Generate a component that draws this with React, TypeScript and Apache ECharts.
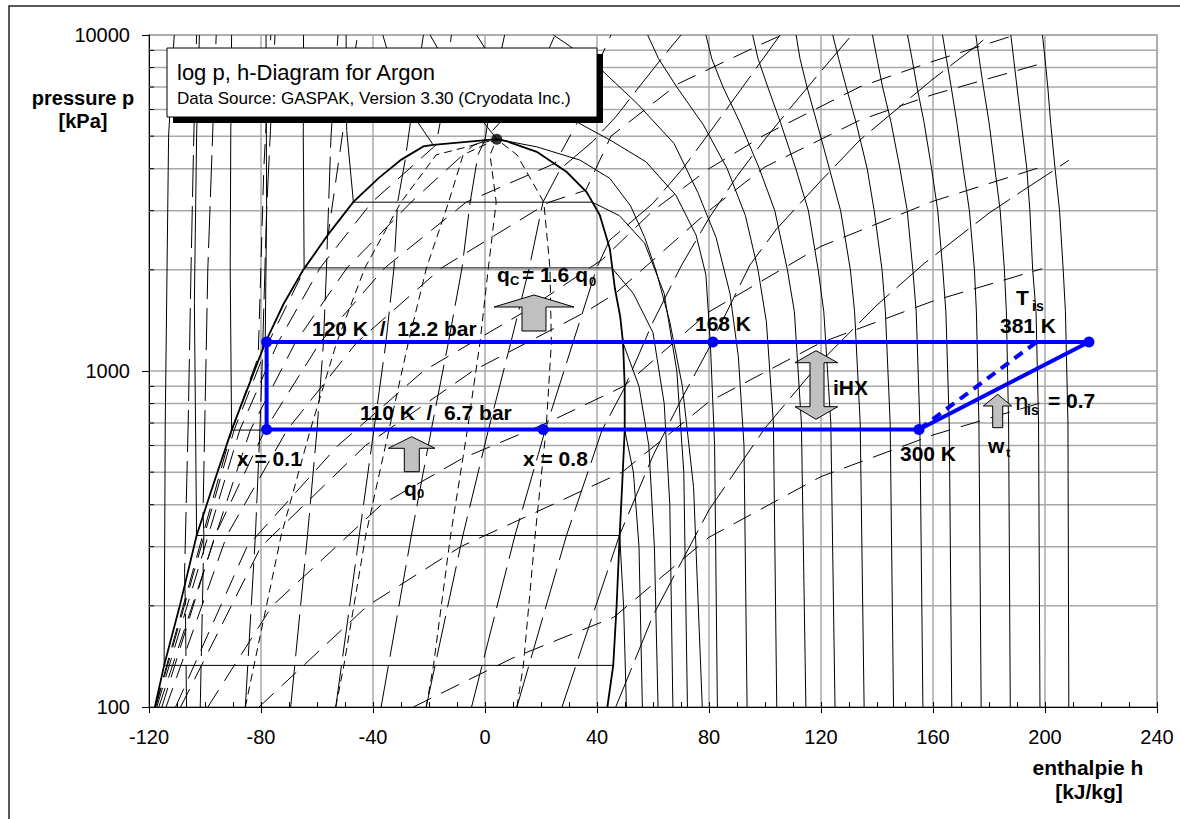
import React, { useEffect, useRef } from 'react';
import * as echarts from 'echarts';

type Pt = [number, number];

const FONT = "'Liberation Sans', Arial, Helvetica, sans-serif";

// pressure grid (minor decades), kPa
const P_MINOR: number[] = [200, 300, 400, 500, 600, 700, 800, 900, 2000, 3000, 4000, 5000, 6000, 7000, 8000, 9000];

// saturation dome [h kJ/kg, p kPa]
const DOME: Pt[] = [
  [-117.9, 100], [-114.6, 133], [-109, 200], [-103, 324], [-97, 460], [-90.5, 667], [-84.5, 900],
  [-78.5, 1213], [-72, 1580], [-64.9, 2000], [-56, 2550], [-47, 3186], [-38, 3750], [-30, 4250],
  [-22, 4660], [-18.5, 4712], [4.2, 4898], [7.7, 4830], [18.5, 4490], [29.2, 3910], [36.3, 3410],
  [41, 2910], [44.6, 2310], [46.4, 1760], [48.3, 1450], [49.3, 1213], [49.9, 900], [49.9, 667],
  [49, 460], [48.1, 324], [47, 200], [45.8, 133], [43.7, 100],
];

const CRITICAL_POINT: Pt = [4.2, 4898];

// isotherms inside the two-phase region (90 ... 140 K)
const TWO_PHASE_ISOTHERMS: Pt[][] = [
  [[-114.6, 133], [45.8, 133]],
  [[-103, 324], [48.1, 324]],
  [[-90.5, 667], [49.9, 667]],
  [[-78.5, 1213], [49.3, 1213]],
  [[-64.6, 2027], [45.2, 2027]],
  [[-47, 3180], [38.3, 3180]],
];

// lines of constant quality x = 0.2, 0.4, 0.6, 0.8
const QUALITY_LINES: Pt[][] = [
  [[-85.6, 100], [-82.5, 133], [-72.8, 324], [-62.4, 667], [-53, 1213], [-42.9, 2027], [-30, 3180], [-17.4, 4400], [4.2, 4898]],
  [[-53.3, 100], [-50.4, 133], [-42.6, 324], [-34.3, 667], [-27.4, 1213], [-20.9, 2027], [-13, 3180], [-7.8, 4400], [4.2, 4898]],
  [[-21, 100], [-18.4, 133], [-12.3, 324], [-6.3, 667], [-1.8, 1213], [1.2, 2027], [4, 3180], [1.8, 4400], [4.2, 4898]],
  [[11.4, 100], [13.7, 133], [17.9, 324], [21.8, 667], [23.7, 1213], [23.2, 2027], [21, 3180], [11.4, 4400], [4.2, 4898]],
];

// liquid-side isotherms 90 ... 150 K
const LIQUID_ISOTHERMS: Pt[][] = [
  [[-114.6, 133], [-114.2, 700], [-113, 5000], [-111, 10000]],
  [[-103, 324], [-103.8, 1600], [-103, 5000], [-102, 10000]],
  [[-90.5, 667], [-91, 2000], [-90.8, 5000], [-90.5, 10000]],
  [[-78.5, 1213], [-78, 3000], [-78.2, 10000]],
  [[-64.6, 2027], [-64.9, 5000], [-64.8, 10000]],
  [[-47, 3186], [-49.4, 5200], [-49.6, 10000]],
  [[-18.6, 4720], [-24, 5500], [-30, 7000], [-34, 8500], [-36.5, 10000]],
];

// vapour / supercritical isotherms 100 ... 400 K
const VAPOR_ISOTHERMS: Pt[][] = [
  [[50.5, 100], [49.5, 200], [48.1, 324]],
  [[56.2, 100], [55, 300], [53, 500], [49.9, 667]],
  [[61.8, 100], [60.5, 300], [58.5, 600], [55, 900], [49.3, 1213]],
  [[67.1, 100], [66, 400], [64, 800], [60, 1300], [53, 1700], [45.3, 2027]],
  [[72.3, 100], [71, 500], [68.5, 1000], [64, 1700], [57, 2400], [48, 2900], [38.3, 3180]],
  [[77.6, 100], [74.5, 450], [70.5, 900], [66, 1400], [61, 2000], [57, 2500], [52, 3100], [44.6, 3742], [33.9, 4244], [18.5, 4646], [4.2, 4898], [-6, 6300], [-13, 8000], [-19.6, 10000]],
  [[83, 100], [82, 600], [80.5, 1200], [78.9, 1932], [75.4, 2536], [68.2, 3334], [57.5, 4192], [45, 4850], [33.7, 5455], [21, 6300], [10, 7400], [2, 8600], [-3, 10000]],
  [[93.6, 100], [92.5, 600], [90.5, 1100], [87.5, 1700], [82.5, 2500], [76, 3400], [67.5, 4757], [54.3, 6257], [41, 7957], [30, 9300], [24.4, 10000]],
  [[104.2, 100], [103, 700], [100.5, 1400], [97.5, 2000], [93, 2900], [86.5, 4000], [78, 5400], [68.5, 7000], [62, 8500], [58.1, 10000]],
  [[114.6, 100], [113, 700], [110.5, 1500], [108, 2000], [103.5, 3000], [98, 4000], [91, 5500], [85, 7000], [81, 8500], [78.9, 10000]],
  [[125, 100], [123.5, 700], [121, 1500], [119, 2000], [115.5, 3000], [111, 4000], [105.5, 5500], [101, 7000], [97.5, 8500], [95.6, 10000]],
  [[135.4, 100], [134, 700], [132, 1500], [130.5, 2000], [127, 3000], [123, 4000], [118.5, 5500], [115, 7000], [112.5, 8500], [111.1, 10000]],
  [[145.9, 100], [144.7, 700], [143, 1500], [141.8, 2000], [139, 3000], [136.5, 4000], [132.5, 5500], [129, 7000], [126.3, 8500], [124.2, 10000]],
  [[156.4, 100], [155.3, 700], [154, 1500], [152.8, 2000], [150.8, 3000], [148.2, 4000], [145, 5500], [142, 7000], [140, 8500], [138.4, 10000]],
  [[166.7, 100], [165.8, 700], [164.6, 1500], [163.5, 2000], [161.7, 3000], [159.5, 4000], [156.8, 5500], [154.3, 7000], [152.5, 8500], [150.9, 10000]],
  [[177.2, 100], [176.4, 700], [175.5, 1500], [174.8, 2000], [173, 3000], [170.8, 4000], [168.5, 5500], [166.5, 7000], [164.8, 8500], [163.4, 10000]],
  [[187.6, 100], [187, 700], [186.2, 1500], [185.5, 2000], [184, 3000], [182.1, 4000], [180, 5500], [178, 7000], [176.5, 8500], [175.3, 10000]],
  [[198.2, 100], [197.7, 700], [196.8, 1500], [195.6, 2000], [194.6, 3000], [193.5, 4000], [191.5, 5500], [190, 7000], [188.8, 8500], [187.8, 10000]],
  [[208.5, 100], [208.2, 700], [207.3, 1500], [206.5, 2000], [205.2, 3000], [203.6, 4000], [202, 5500], [201, 7000], [200, 8500], [199.1, 10000]],
];

// isochores (dashed)
const ISOCHORES: Pt[][] = [
  [[-25.6, 100], [10, 140], [46, 185], [80, 320], [120, 485], [160, 645], [199, 806]],
  [[-80.7, 100], [-42, 200], [-8.7, 300], [24, 400], [49, 500], [80, 810], [120, 1215], [160, 1615], [199, 2016]],
  [[-99, 100], [-76, 200], [-37, 400], [-8, 550], [22, 700], [49.5, 900], [80, 1500], [120, 2350], [160, 3200], [199, 4055]],
  [[-108.7, 100], [-80, 300], [-42.7, 600], [-4.4, 1000], [36, 1500], [46.5, 1700], [80, 3000], [100, 4050], [133.9, 5580], [160, 6650], [199, 8235]],
  [[-110.5, 100], [-85, 300], [-52.5, 600], [-22, 1000], [14, 1500], [42, 2150], [60, 3000], [80, 4000], [100, 5050], [133.9, 7013], [160, 8350], [189.3, 10000]],
  [[-113.9, 100], [-92.2, 324], [-70.7, 667], [-45.9, 1213], [-15.5, 2027], [22.9, 3180], [36, 3450], [45, 5000], [69, 7160], [97.5, 9290], [106, 10000]],
  [[-115.4, 100], [-96.4, 324], [-78.6, 667], [-59, 1213], [-35.8, 2027], [-6.7, 3180], [25, 4150], [33, 5490], [40, 8090], [45, 10000]],
  [[-116.5, 100], [-83.8, 667], [-67.8, 1213], [-49.3, 2027], [-26.4, 3180], [-4, 4709], [-1, 4800], [15, 6740], [22, 8760], [25, 10000]],
  [[-117.2, 100], [-87.6, 667], [-74, 1213], [-58.9, 2027], [-40.4, 3180], [-17.5, 4709], [-16, 5500], [-14, 7500], [-12, 10000]],
  [[-117.6, 100], [-89.6, 667], [-77.4, 1213], [-64.2, 2027], [-56, 2550], [-51, 5000], [-45.5, 10000]],
  [[-117.8, 100], [-90.4, 667], [-81, 1100], [-79, 4000], [-76.5, 10000]],
];

// isentropes (long dashes)
const ISENTROPES: Pt[][] = [
  [[-106.6, 100], [-107, 200], [-107.3, 250], [-106, 700], [-105, 2000], [-104, 5000], [-103, 10000]],
  [[-101.7, 100], [-100.4, 324], [-100.7, 380], [-99, 2000], [-96, 10000]],
  [[-85.6, 100], [-82, 324], [-80.4, 667], [-79.5, 1100], [-78, 3000], [-75, 10000]],
  [[-69.4, 100], [-63.4, 324], [-60, 667], [-57.7, 1213], [-56.6, 2027], [-56.3, 2450], [-55, 5000], [-52.5, 10000]],
  [[-53.3, 100], [-44.9, 324], [-39.7, 667], [-35.4, 1213], [-32.5, 2027], [-31.2, 3180], [-28.5, 4250], [-26, 6000], [-22, 10000]],
  [[-37.1, 100], [-26.3, 324], [-19.2, 667], [-13.1, 1213], [-8.2, 2027], [-5.3, 3180], [-2.5, 4400], [0, 4880], [3, 7000], [7, 10000]],
  [[-21, 100], [-7.9, 324], [1.2, 667], [9.2, 1213], [15.8, 2027], [20.7, 3180], [27, 4000], [38.4, 4813], [46.7, 5706], [55, 7000], [63, 8500], [70, 10000]],
  [[-4.8, 100], [10.7, 324], [21.5, 667], [31.4, 1213], [39.9, 2027], [44.5, 2450], [59.9, 3150], [70.6, 4000], [80, 5100], [92, 7000], [105.4, 10000]],
  [[11.4, 100], [29.1, 324], [41.8, 667], [49.5, 880], [60, 1400], [70, 2050], [80, 2850], [90, 3800], [100, 4900], [110, 6200], [120, 7800], [131, 10000]],
  [[27.5, 100], [48, 324], [60, 560], [70, 820], [80, 1170], [94.6, 2067], [104.2, 2650], [119.6, 3655], [133.9, 4870], [159.5, 7340], [175.9, 9340], [180, 10000]],
  [[46.7, 100], [60, 187], [80, 386], [100, 676], [120, 1068], [140, 1572], [156.8, 2088], [180, 2950], [192, 3440], [200.6, 3830], [208.5, 4237]],
];

// refrigeration cycle (blue)
const CYCLE_HIGH: Pt[] = [[-78, 1220], [81.4, 1220], [215.7, 1220]];
const CYCLE_LOW: Pt[] = [[-78, 670], [20.8, 670], [155, 670]];
const CYCLE_VALVE: Pt[] = [[-78, 1220], [-78, 670]];
const CYCLE_COMPRESSOR: Pt[] = [[155, 670], [215.7, 1220]];
const CYCLE_ISENTROPIC: Pt[] = [[155, 670], [197, 1220]];

const BLUE = '#0000ff';

function linesSeries(curves: Pt[][], width: number, type: any, z = 2) {
  return {
    type: 'lines',
    coordinateSystem: 'cartesian2d',
    polyline: true,
    silent: true,
    z,
    lineStyle: { color: '#000', width, type, opacity: 1 },
    data: curves.map((c) => ({ coords: c })),
  };
}

function txt(text: string, x: number, y: number, size: number, bold = true, align = 'left', family = FONT) {
  return {
    type: 'text',
    z: 100,
    style: {
      text,
      x,
      y,
      fill: '#000',
      fontSize: size,
      fontWeight: bold ? 'bold' : 'normal',
      fontFamily: family,
      align,
      verticalAlign: 'middle',
    },
  };
}

function poly(points: number[][]) {
  return {
    type: 'polygon',
    z: 100,
    shape: { points },
    style: { fill: '#c0c0c0', stroke: '#000', lineWidth: 1 },
  };
}

export default function App() {
  const ref = useRef<HTMLDivElement>(null);

  useEffect(() => {
    if (!ref.current) return;
    const chart = echarts.init(ref.current, undefined, { renderer: 'svg' });

    const gridLines: Pt[][] = P_MINOR.map((p) => [[-120, p], [240, p]] as Pt[]);
    const yMinorTicks: Pt[][] = P_MINOR.map((p) => [[-120, p], [-118.2, p]] as Pt[]);

    const blueLine = (data: Pt[], symbols: boolean, dashed = false) => ({
      type: 'line',
      data,
      silent: true,
      z: 10,
      symbol: symbols ? 'circle' : 'none',
      symbolSize: 11,
      showSymbol: symbols,
      itemStyle: { color: BLUE },
      lineStyle: { color: BLUE, width: 4, type: dashed ? [10, 7] : 'solid' },
    });

    const option: any = {
      animation: false,
      backgroundColor: '#ffffff',
      grid: {
        left: 149,
        right: 23,
        top: 35,
        bottom: 112,
        show: true,
        borderColor: '#a8a8a8',
        borderWidth: 1.5,
        backgroundColor: 'transparent',
      },
      xAxis: [
        {
          type: 'value',
          min: -120,
          max: 240,
          interval: 40,
          position: 'bottom',
          axisLine: { show: true, onZero: false, lineStyle: { color: '#000', width: 1 } },
          axisTick: { show: true, length: 6, lineStyle: { color: '#000' } },
          axisLabel: { fontSize: 20, color: '#000', fontFamily: FONT, margin: 20 },
          splitLine: { show: true, lineStyle: { color: '#a8a8a8', width: 1.5 } },
        },
        {
          type: 'value',
          min: -120,
          max: 240,
          interval: 40,
          position: 'bottom',
          axisLine: { show: false, onZero: false },
          axisTick: { show: true, inside: true, length: 5, lineStyle: { color: '#000' } },
          minorTick: { show: true, splitNumber: 4, length: 5, lineStyle: { color: '#000' } },
          axisLabel: { show: false },
          splitLine: { show: false },
        },
      ],
      yAxis: {
        type: 'log',
        logBase: 10,
        min: 100,
        max: 10000,
        axisLine: { show: true, onZero: false, lineStyle: { color: '#000', width: 1 } },
        axisTick: { show: true, length: 7, lineStyle: { color: '#000' } },
        axisLabel: {
          fontSize: 20,
          color: '#000',
          fontFamily: FONT,
          margin: 19,
          formatter: (v: number) => String(Math.round(v)),
        },
        splitLine: { show: true, lineStyle: { color: '#a8a8a8', width: 1.5 } },
      },
      series: [
        { ...linesSeries(gridLines, 1.5, 'solid', 1), lineStyle: { color: '#a8a8a8', width: 1.5, opacity: 1 } },
        linesSeries(yMinorTicks, 1, 'solid', 3),
        linesSeries(ISOCHORES, 1, [20, 11]),
        linesSeries(ISENTROPES, 1, [42, 9]),
        linesSeries(QUALITY_LINES, 1, [8, 5]),
        linesSeries(TWO_PHASE_ISOTHERMS, 1, 'solid'),
        linesSeries(LIQUID_ISOTHERMS, 1, 'solid'),
        linesSeries(VAPOR_ISOTHERMS, 1, 'solid'),
        linesSeries([DOME], 1.8, 'solid', 4),
        {
          type: 'scatter',
          data: [CRITICAL_POINT],
          symbolSize: 11,
          silent: true,
          z: 5,
          itemStyle: { color: '#000' },
        },
        blueLine(CYCLE_VALVE, false),
        blueLine(CYCLE_COMPRESSOR, false),
        blueLine(CYCLE_ISENTROPIC, false, true),
        blueLine(CYCLE_HIGH, true),
        blueLine(CYCLE_LOW, true),
      ],
      graphic: [
        // outer frame
        { type: 'rect', z: 90, shape: { x: 9, y: 6, width: 1400, height: 1000 }, style: { fill: 'none', stroke: '#222', lineWidth: 1.5 } },
        // title box with shadow
        { type: 'rect', z: 98, shape: { x: 173, y: 54, width: 430, height: 69 }, style: { fill: '#000' } },
        { type: 'rect', z: 99, shape: { x: 167, y: 48, width: 430, height: 69 }, style: { fill: '#fff', stroke: '#000', lineWidth: 1 } },
        txt('log p, h-Diagram for Argon', 177, 72, 22, false),
        txt('Data Source: GASPAK, Version 3.30 (Cryodata Inc.)', 177, 98, 17, false),
        // axis titles
        txt('pressure p', 83, 98, 20, true, 'center'),
        txt('[kPa]', 83, 121, 20, true, 'center'),
        txt('enthalpie h', 1088, 767, 21, true, 'center'),
        txt('[kJ/kg]', 1089, 791, 21, true, 'center'),
        // arrows
        poly([[534, 295], [574, 307], [546, 307], [546, 331], [522, 331], [522, 307], [494, 307]]),
        poly([[411.7, 436.7], [435, 448.3], [419.3, 448.3], [419.3, 471.7], [404.3, 471.7], [404.3, 448.3], [388.3, 448.3]]),
        poly([[816, 350.7], [837.7, 362.7], [824, 362.7], [824, 406.7], [837.7, 406.7], [816, 419.3], [795, 406.7], [810, 406.7], [810, 362.7], [795, 362.7]]),
        poly([[997.7, 394.3], [1011.7, 406], [1002.7, 406], [1002.7, 427.7], [992.7, 427.7], [992.7, 406], [983.3, 406]]),
        // annotations
        txt('120 K  /  12.2 bar', 312, 328, 21),
        txt('110 K  /  6.7 bar', 360, 412, 21),
        txt('x = 0.1', 237, 458, 21),
        txt('x = 0.8', 523, 458, 21),
        txt('168 K', 695, 323, 21),
        txt('381 K', 1000, 325, 21),
        txt('T', 1016, 297, 21),
        txt('is', 1032, 306, 14),
        txt('iHX', 833, 387, 21),
        txt('300 K', 900, 453, 21),
        txt('η', 1014, 402, 24, false, 'left', "'DejaVu Serif', 'Liberation Serif', serif"),
        txt('is', 1027, 410, 14),
        txt('= 0.7', 1048, 400, 21),
        txt('w', 988, 445, 21),
        txt('t', 1006, 452, 13),
        txt('q', 497, 274, 21),
        txt('C', 510, 280, 13),
        txt('= 1.6 q', 522, 274, 21),
        txt('0', 589, 281, 13),
        txt('q', 404, 488, 21),
        txt('0', 417, 493, 13),
      ],
    };

    chart.setOption(option);
    return () => chart.dispose();
  }, []);

  return (
    <div
      ref={ref}
      style={{ position: 'fixed', left: 0, top: 0, width: 1180, height: 819, background: '#fff' }}
    />
  );
}
